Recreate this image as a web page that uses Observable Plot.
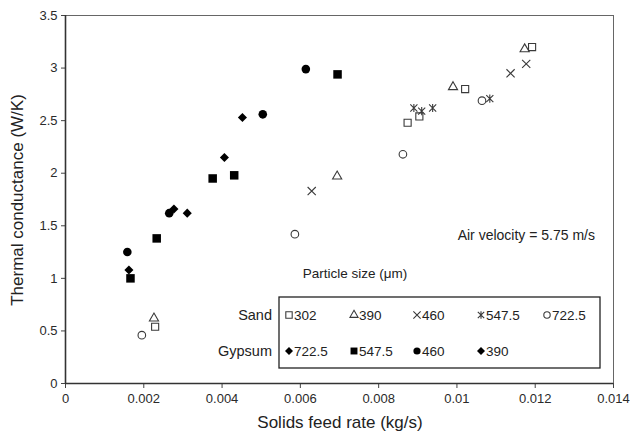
<!DOCTYPE html>
<html><head><meta charset="utf-8">
<script src="https://cdn.jsdelivr.net/npm/d3@7"></script>
<script src="https://cdn.jsdelivr.net/npm/@observablehq/plot@0.6"></script>
<style>
body{margin:0;background:#fff;}
#chart{width:630px;height:439px;}
</style></head><body><div id="chart"></div>
<script>
// ---- data: [solids feed rate (kg/s), thermal conductance (W/K)] ----
const sand302   = [[0.00229,0.54],[0.00874,2.48],[0.00904,2.54],[0.01021,2.80],[0.01192,3.20]];
const sand390   = [[0.00226,0.62],[0.00694,1.97],[0.00990,2.82],[0.01173,3.18]];
const sand460   = [[0.00629,1.83],[0.01137,2.95],[0.01177,3.04]];
const sand5475  = [[0.00890,2.62],[0.00910,2.59],[0.00938,2.62],[0.01084,2.71]];
const sand7225  = [[0.00195,0.46],[0.00586,1.42],[0.00862,2.18],[0.01064,2.69]];
const gyp7225   = [[0.00162,1.08],[0.00277,1.66],[0.00406,2.15]];
const gyp5475   = [[0.00166,1.00],[0.00233,1.38],[0.00376,1.95],[0.00431,1.98],[0.00695,2.94]];
const gyp460    = [[0.00158,1.25],[0.00265,1.62],[0.00504,2.56],[0.00614,2.99]];
const gyp390    = [[0.00311,1.62],[0.00452,2.53]];

const xTicks = [0,0.002,0.004,0.006,0.008,0.01,0.012,0.014];
const yTicks = [0,0.5,1,1.5,2,2.5,3,3.5];
const sandLabels   = ["302","390","460","547.5","722.5"];
const gypsumLabels = ["722.5","547.5","460","390"];

// Excel-style "star" marker: a cross with a vertical bar
const starSym = {draw(ctx, size){
  const r = Math.sqrt(size) * 0.5;
  ctx.moveTo(-r,-r); ctx.lineTo(r,r);
  ctx.moveTo(-r,r); ctx.lineTo(r,-r);
  ctx.moveTo(0,-r*1.15); ctx.lineTo(0,r*1.15);
}};

const sandCol = "#3a3a3a";
const series = [
  {data:sand302,  symbol:"square",   d3s:d3.symbolSquare,   fill:"none",  stroke:sandCol, r:4.0, lr:3.6},
  {data:sand390,  symbol:"triangle", d3s:d3.symbolTriangle, fill:"none",  stroke:sandCol, r:3.4, lr:3.0},
  {data:sand460,  symbol:"times",    d3s:d3.symbolTimes,    fill:"none",  stroke:sandCol, r:3.8, lr:3.4},
  {data:sand5475, symbol:starSym,    d3s:starSym,           fill:"none",  stroke:sandCol, r:4.0, lr:3.6},
  {data:sand7225, symbol:"circle",   d3s:d3.symbolCircle,   fill:"none",  stroke:sandCol, r:3.8, lr:3.2},
  {data:gyp7225,  symbol:"diamond2", d3s:d3.symbolDiamond2, fill:"#000",  stroke:"none", r:4.1, lr:3.6},
  {data:gyp5475,  symbol:"square",   d3s:d3.symbolSquare,   fill:"#000",  stroke:"none", r:4.8, lr:3.9},
  {data:gyp460,   symbol:"circle",   d3s:d3.symbolCircle,   fill:"#000",  stroke:"none", r:4.3, lr:3.6},
  {data:gyp390,   symbol:"diamond2", d3s:d3.symbolDiamond2, fill:"#000",  stroke:"none", r:4.1, lr:3.6}
];

const fmt = d => String(+d.toFixed(3));

const chart = Plot.plot({
  width:630, height:439,
  marginLeft:65, marginRight:17, marginTop:15, marginBottom:56,
  style:{fontFamily:"'Liberation Sans', Arial, sans-serif", fontSize:"13px", color:"#2a2a2a", background:"#fff", overflow:"visible"},
  x:{domain:[0,0.014]},
  y:{domain:[0,3.5]},
  marks:[
    Plot.frame({stroke:"#666", strokeWidth:1}),
    Plot.axisX({ticks:xTicks, tickFormat:fmt, tickSize:5, tickPadding:5, label:null, stroke:"#444"}),
    Plot.axisY({ticks:yTicks, tickFormat:fmt, tickSize:4, tickPadding:4, label:null, stroke:"#444"}),
    Plot.ruleX([0], {stroke:"#333", strokeWidth:1.6}),
    Plot.ruleY([0], {stroke:"#333", strokeWidth:1.6}),
    ...series.map(s => Plot.dot(s.data, {x:d=>d[0], y:d=>d[1], symbol:s.symbol, r:s.r, fill:s.fill, stroke:s.stroke, strokeWidth:1.1}))
  ]
});
document.getElementById("chart").appendChild(chart);

// ---- titles, annotation and legend ----
const svg = d3.select(chart);
const font = "'Liberation Sans', Arial, sans-serif";
const g = svg.append("g").attr("font-family", font).attr("fill", "#222").attr("text-anchor","start");

g.append("text").text("Solids feed rate (kg/s)")
  .attr("x", 340).attr("y", 428).attr("text-anchor","middle").attr("font-size",17);
g.append("text").text("Thermal conductance (W/K)")
  .attr("transform","translate(23,200) rotate(-90)").attr("text-anchor","middle").attr("font-size",17);
g.append("text").text("Air velocity = 5.75 m/s")
  .attr("x", 595).attr("y", 240).attr("text-anchor","end").attr("font-size",14);
g.append("text").text("Particle size (μm)")
  .attr("x", 355).attr("y", 278).attr("text-anchor","middle").attr("font-size",13.5);

g.append("rect").attr("x",279).attr("y",297).attr("width",321).attr("height",71)
  .attr("fill","none").attr("stroke","#222").attr("stroke-width",1.3);
g.append("text").text("Sand").attr("x",272).attr("y",320).attr("text-anchor","end").attr("font-size",14.5);
g.append("text").text("Gypsum").attr("x",272).attr("y",356).attr("text-anchor","end").attr("font-size",14.5);

const sandX = [289,354,417,481,547];
const gypX  = [289,354,417,481];
const addEntry = (s, x, y, label) => {
  const sz = Math.PI * s.lr * s.lr;
  g.append("path").attr("d", d3.symbol().type(s.d3s).size(sz)())
    .attr("transform",`translate(${x},${y})`)
    .attr("fill", s.fill).attr("stroke", s.stroke === "none" ? "none" : s.stroke).attr("stroke-width",1.1);
  g.append("text").text(label).attr("x", x+5).attr("y", y+5)
    .attr("text-anchor","start").attr("font-size",13.5);
};
sandLabels.forEach((l,i) => addEntry(series[i], sandX[i], 315, l));
gypsumLabels.forEach((l,i) => addEntry(series[5+i], gypX[i], 351, l));
</script>
</body></html>
